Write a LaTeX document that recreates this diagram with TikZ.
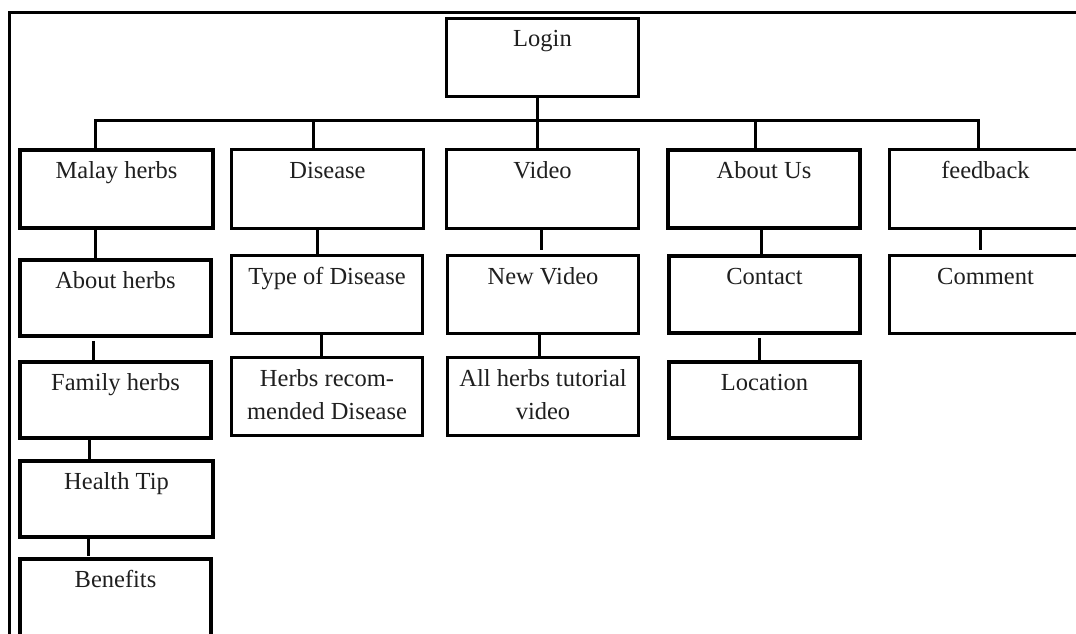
\documentclass[tikz,border=0pt]{standalone}
\usepackage{fontspec}
\setmainfont{Liberation Serif}
\begin{document}
\begin{tikzpicture}[x=1pt,y=-1pt,
  boxthin/.style={draw, line width=3pt, inner sep=0pt, outer sep=0pt},
  boxthick/.style={draw, line width=4.3pt, inner sep=0pt, outer sep=0pt},
  lbl/.style={anchor=base, inner sep=0pt, outer sep=0pt, text=black!88, font=\fontsize{24.5}{33}\selectfont},
  conn/.style={draw, line width=3pt},
  frame/.style={draw, line width=3pt}]
\useasboundingbox (0,0) rectangle (1076,634);
\clip (0,0) rectangle (1076,634);
% outer frame
\draw[frame] (9,660) -- (9,13) -- (1100,13);
% boxes
\node[boxthin, minimum width=192pt, minimum height=78pt] (login) at (542.5,57.5) {};
\node[boxthick, minimum width=192.5pt, minimum height=77.5pt] (mh) at (116.5,189) {};
\node[boxthin, minimum width=192pt, minimum height=79pt] (dis) at (327.5,189) {};
\node[boxthin, minimum width=192pt, minimum height=79pt] (vid) at (542.5,189) {};
\node[boxthick, minimum width=191.5pt, minimum height=77.5pt] (au) at (764,189) {};
\node[boxthin, minimum width=192pt, minimum height=79pt] (fb) at (985.5,189) {};
\node[boxthick, minimum width=190.5pt, minimum height=75.5pt] (ah) at (115.5,298) {};
\node[boxthick, minimum width=190.5pt, minimum height=75.5pt] (fh) at (115.5,400) {};
\node[boxthick, minimum width=192.5pt, minimum height=75.5pt] (ht) at (116.5,499) {};
\node[boxthick, minimum width=190.5pt, minimum height=78.5pt] (bf) at (115.5,598.5) {};
\node[boxthin, minimum width=191pt, minimum height=78pt] (td) at (327,294.5) {};
\node[boxthin, minimum width=191pt, minimum height=78pt] (hr) at (327,396.5) {};
\node[boxthin, minimum width=191pt, minimum height=78pt] (nv) at (543,294.5) {};
\node[boxthin, minimum width=191pt, minimum height=78pt] (av) at (543,396.5) {};
\node[boxthick, minimum width=190.5pt, minimum height=76.5pt] (ct) at (764.5,294.5) {};
\node[boxthick, minimum width=190.5pt, minimum height=75.5pt] (loc) at (764.5,400) {};
\node[boxthin, minimum width=192pt, minimum height=78pt] (cm) at (985.5,294.5) {};
% labels
\node[lbl] (login-t) at ([yshift=-28.5pt]login.north) {Login};
\node[lbl] (mh-t) at ([yshift=-28pt]mh.north) {Malay herbs};
\node[lbl] (dis-t) at ([yshift=-28.5pt]dis.north) {Disease};
\node[lbl] (vid-t) at ([yshift=-28.5pt]vid.north) {Video};
\node[lbl] (au-t) at ([yshift=-28pt]au.north) {About Us};
\node[lbl] (fb-t) at ([yshift=-28.5pt]fb.north) {feedback};
\node[lbl] (ah-t) at ([yshift=-28pt]ah.north) {About herbs};
\node[lbl] (fh-t) at ([yshift=-28pt]fh.north) {Family herbs};
\node[lbl] (ht-t) at ([yshift=-28pt]ht.north) {Health Tip};
\node[lbl] (bf-t) at ([yshift=-28pt]bf.north) {Benefits};
\node[lbl] (td-t) at ([yshift=-28.5pt]td.north) {Type of Disease};
\node[lbl] (hr-t) at ([yshift=-28.5pt]hr.north) {\begin{tabular}[t]{@{}c@{}}Herbs recom-\\mended Disease\end{tabular}};
\node[lbl] (nv-t) at ([yshift=-28.5pt]nv.north) {New Video};
\node[lbl] (av-t) at ([yshift=-28.5pt]av.north) {\begin{tabular}[t]{@{}c@{}}All herbs tutorial\\video\end{tabular}};
\node[lbl] (ct-t) at ([yshift=-28pt]ct.north) {Contact};
\node[lbl] (loc-t) at ([yshift=-28pt]loc.north) {Location};
\node[lbl] (cm-t) at ([yshift=-28.5pt]cm.north) {Comment};
% connectors
\coordinate (bus) at (537,120);
\draw[conn] ([xshift=-5.5pt]login.south) -- ([xshift=-5.5pt]vid.north);
\draw[conn] ([xshift=-21.5pt]mh.north) |- (bus) -| ([xshift=-7.5pt]fb.north);
\draw[conn] ([xshift=-14.5pt]dis.north) -- ([xshift=-14.5pt]dis.north |- bus);
\draw[conn] ([xshift=-9pt]au.north) -- ([xshift=-9pt]au.north |- bus);
\draw[conn] ([xshift=-21.5pt]mh.south) -- ([xshift=-21.5pt]mh.south |- ah.north);
\draw[conn, shorten <=5pt] ([xshift=-22.5pt]ah.south) -- ([xshift=-22.5pt]ah.south |- fh.north);
\draw[conn] ([xshift=-26.5pt]fh.south) -- ([xshift=-26.5pt]fh.south |- ht.north);
\draw[conn, shorten <=2pt, shorten >=3pt] ([xshift=-28.5pt]ht.south) -- ([xshift=-28.5pt]ht.south |- bf.north);
\draw[conn] ([xshift=-10.5pt]dis.south) -- ([xshift=-10.5pt]dis.south |- td.north);
\draw[conn] ([xshift=-6pt]td.south) -- ([xshift=-6pt]td.south |- hr.north);
\draw[conn, shorten >=6pt] ([xshift=-1.5pt]vid.south) -- ([xshift=-1.5pt]vid.south |- nv.north);
\draw[conn] ([xshift=-4pt]nv.south) -- ([xshift=-4pt]nv.south |- av.north);
\draw[conn] ([xshift=-3pt]au.south) -- ([xshift=-3pt]au.south |- ct.north);
\draw[conn, shorten <=5pt] ([xshift=-5.5pt]ct.south) -- ([xshift=-5.5pt]ct.south |- loc.north);
\draw[conn, shorten >=6pt] ([xshift=-5.5pt]fb.south) -- ([xshift=-5.5pt]fb.south |- cm.north);
\end{tikzpicture}
\end{document}
